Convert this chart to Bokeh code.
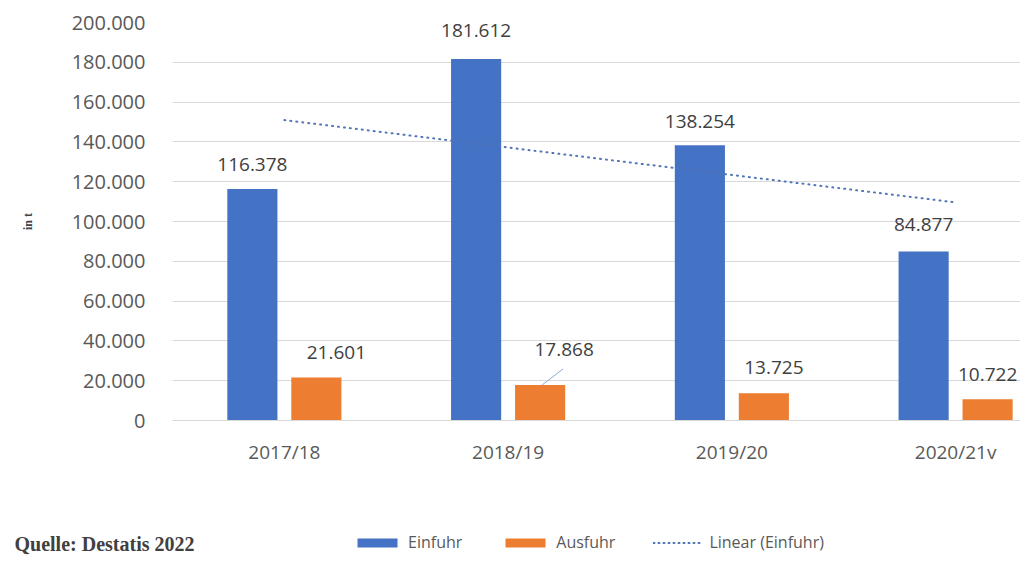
import numpy as np
from bokeh.plotting import figure
from bokeh.models import ColumnDataSource, Range1d, Legend, LegendItem, Label, FixedTicker
from bokeh.transform import dodge
from bokeh.core.properties import value
from bokeh.embed import file_html
from bokeh.resources import INLINE

# ---- data ----
categories = ["2017/18", "2018/19", "2019/20", "2020/21v"]
einfuhr = [116378, 181612, 138254, 84877]
ausfuhr = [21601, 17868, 13725, 10722]
einfuhr_labels = ["116.378", "181.612", "138.254", "84.877"]
ausfuhr_labels = ["21.601", "17.868", "13.725", "10.722"]
y_ticks = [0, 20000, 40000, 60000, 80000, 100000, 120000, 140000, 160000, 180000, 200000]
y_tick_labels = ["0", "20.000", "40.000", "60.000", "80.000", "100.000", "120.000",
                 "140.000", "160.000", "180.000", "200.000"]

# ---- styling / layout (not data) ----
BLUE = "#4472C4"
ORANGE = "#ED7D31"
TREND = "#4F74B8"
GRID = "#D9D9D9"
TXT = "#595959"
LBL = "#404040"
FONT = "Open Sans"
ein_label_dy = [-24, -29, -24, -27]   # px offsets of blue data labels
aus_label_dx = [20, 24, 10, 0]        # px offsets of orange data labels
aus_label_dy = [-25, -35, -26, -25]

xc = [i + 0.5 for i in range(len(categories))]

src = ColumnDataSource(dict(xc=xc, einfuhr=einfuhr, ausfuhr=ausfuhr,
                            el=einfuhr_labels, al=ausfuhr_labels, edy=ein_label_dy,
                            adx=aus_label_dx, ady=aus_label_dy))

p = figure(width=1020, height=480, output_backend="svg", toolbar_location=None,
           x_range=Range1d(0, 3.79), y_range=Range1d(0, 200000),
           min_border_left=172, min_border_right=0, min_border_top=22, min_border_bottom=60)
p.outline_line_color = None
p.background_fill_color = "white"
p.border_fill_color = "white"

OFF = 0.143
W = 0.224
p.vbar(x=dodge("xc", -OFF), top="einfuhr", width=W, source=src, color=BLUE, line_color=None)
p.vbar(x=dodge("xc", OFF), top="ausfuhr", width=W, source=src, color=ORANGE, line_color=None)

# linear trend of Einfuhr (as Excel trendline)
xs = np.arange(1, len(einfuhr) + 1)
slope, icpt = np.polyfit(xs, einfuhr, 1)
trend_x = [xc[0], xc[-1]]
trend_y = [slope * 1 + icpt, slope * len(einfuhr) + icpt]
p.line(trend_x, trend_y, line_color=TREND, line_width=2, line_dash="1 5", line_cap="round")

# data labels
p.text(x=dodge("xc", -OFF), y="einfuhr", text="el", source=src, text_align="center",
       text_baseline="alphabetic", y_offset="edy", text_font=value(FONT),
       text_font_size="19px", text_color=LBL)
p.text(x=dodge("xc", OFF), y="ausfuhr", text="al", source=src, text_align="center",
       text_baseline="alphabetic", x_offset="adx", y_offset="ady", text_font=value(FONT),
       text_font_size="19px", text_color=LBL)

# leader line for 17.868 label
ypx = 200000 / 398.0
xpx = 1.0 / 223.7
lx0 = xc[1] + OFF + 2 * xpx
p.segment(x0=[lx0], y0=[ausfuhr[1]], x1=[lx0 + 21 * xpx], y1=[ausfuhr[1] + 16 * ypx],
          line_color="#8EA9DB", line_width=1)

# axes
p.xaxis.ticker = FixedTicker(ticks=xc)
p.xaxis.major_label_overrides = {x: c for x, c in zip(xc, categories)}
p.xaxis.axis_line_color = GRID
p.xaxis.major_tick_line_color = None
p.xaxis.minor_tick_line_color = None
p.xaxis.major_label_standoff = 12
p.xaxis.major_label_text_font = FONT
p.xaxis.major_label_text_font_size = "19px"
p.xaxis.major_label_text_color = TXT

p.yaxis.ticker = FixedTicker(ticks=y_ticks)
p.yaxis.major_label_overrides = {t: l for t, l in zip(y_ticks, y_tick_labels)}
p.yaxis.axis_line_color = None
p.yaxis.major_tick_line_color = None
p.yaxis.minor_tick_line_color = None
p.yaxis.major_label_standoff = 21
p.yaxis.major_label_text_font = FONT
p.yaxis.major_label_text_font_size = "20px"
p.yaxis.major_label_text_color = TXT
p.yaxis.axis_label = "in t"
p.yaxis.axis_label_standoff = 34
p.yaxis.axis_label_text_font = "Liberation Serif"
p.yaxis.axis_label_text_font_style = "bold"
p.yaxis.axis_label_text_font_size = "12px"
p.yaxis.axis_label_text_color = LBL

p.xgrid.grid_line_color = None
p.ygrid.ticker = FixedTicker(ticks=y_ticks)
p.ygrid.grid_line_color = GRID
p.ygrid.grid_line_width = 1

# ---- footer: source note + legend (separate root below the chart) ----
p2 = figure(width=1020, height=90, output_backend="svg", toolbar_location=None,
            x_range=Range1d(0, 1), y_range=Range1d(0, 1),
            x_axis_location=None, y_axis_location=None,
            min_border_left=0, min_border_right=0, min_border_top=0, min_border_bottom=0)
p2.grid.visible = False
p2.outline_line_color = None

# legend proxies (drawn outside the visible range; only their legend glyphs show)
d1 = p2.vbar(x=[5], top=[1], width=0.1, color=BLUE, line_color=None)
d2 = p2.vbar(x=[5], top=[1], width=0.1, color=ORANGE, line_color=None)
d3 = p2.line(x=[5, 6], y=[1, 1], line_color=TREND, line_width=2, line_dash="1 4", line_cap="round")

p2.add_layout(Label(x=14, y=27, x_units="screen", y_units="screen",
                    text="Quelle: Destatis 2022", text_align="left", text_baseline="middle",
                    text_font="Liberation Serif", text_font_style="bold",
                    text_font_size="20px", text_color=LBL))

legend = Legend(items=[LegendItem(label="Einfuhr", renderers=[d1]),
                       LegendItem(label="Ausfuhr", renderers=[d2]),
                       LegendItem(label="Linear (Einfuhr)", renderers=[d3])],
                orientation="horizontal", location=(352, 17),
                glyph_width=50, glyph_height=11, label_standoff=6, spacing=38,
                padding=0, margin=0, border_line_color=None, background_fill_alpha=0,
                label_text_font=FONT, label_text_font_size="16px", label_text_color=TXT)
p2.add_layout(legend, "center")

open("out.html", "w").write(file_html([p, p2], INLINE))
